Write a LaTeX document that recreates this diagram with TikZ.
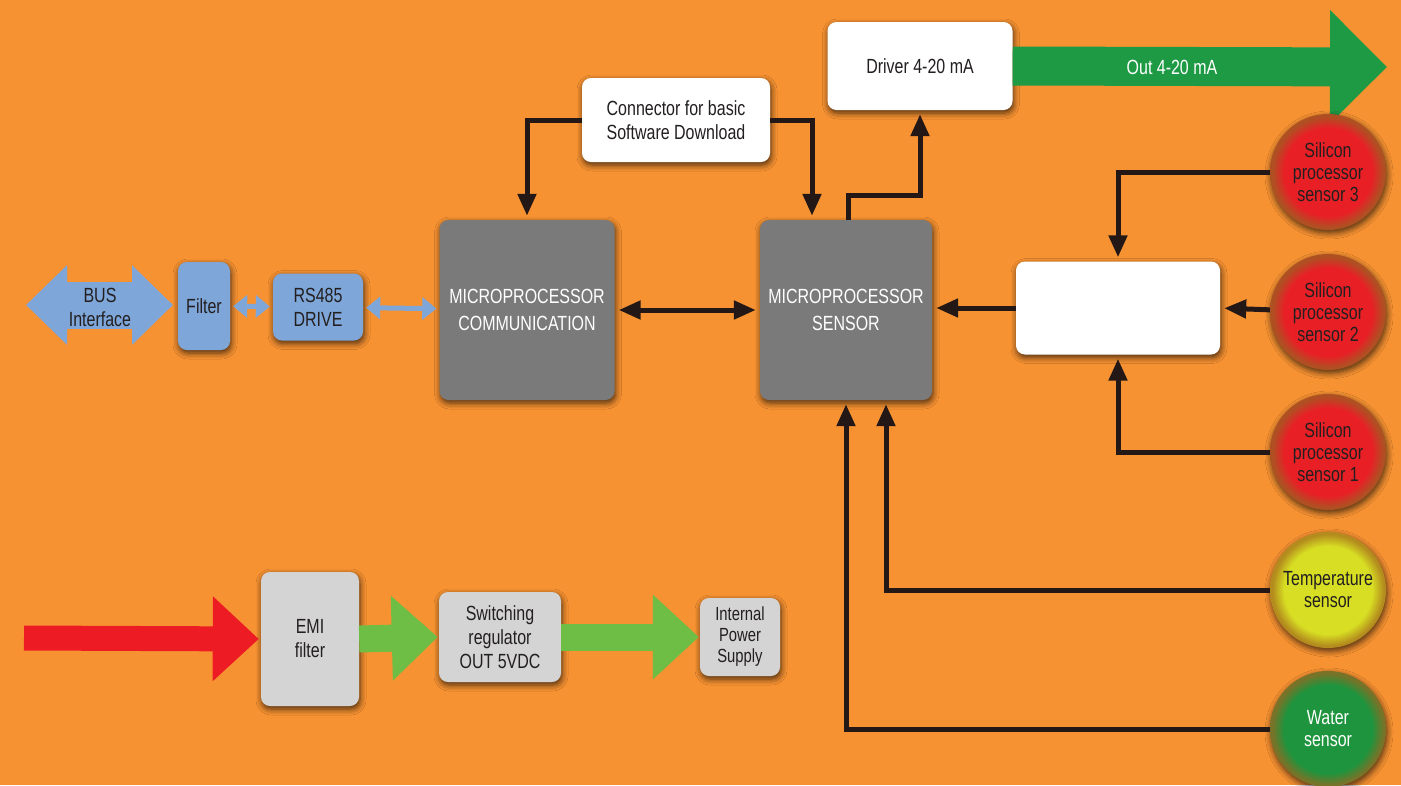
\documentclass[tikz,border=0pt]{standalone}
\usepackage{fontspec}
\setmainfont[FakeStretch=0.78]{Liberation Sans}
\usetikzlibrary{arrows.meta,shadows.blur}

\definecolor{bgorange}{RGB}{247,146,50}
\definecolor{boxgray}{RGB}{122,122,122}
\definecolor{busblue}{RGB}{126,166,216}
\definecolor{lightgray}{RGB}{212,212,212}
\definecolor{textdark}{RGB}{35,31,32}
\definecolor{wirecol}{RGB}{35,24,21}
\definecolor{outgreen}{RGB}{30,154,69}
\definecolor{pwrgreen}{RGB}{110,190,70}
\definecolor{pwrred}{RGB}{237,28,36}
\definecolor{sensred}{RGB}{232,32,38}
\definecolor{redrim}{RGB}{175,80,35}
\definecolor{sensyellow}{RGB}{215,222,35}
\definecolor{yellowrim}{RGB}{180,140,30}
\definecolor{sensgreen}{RGB}{30,148,62}
\definecolor{greenrim}{RGB}{120,115,40}

\pgfdeclareradialshading{redball}{\pgfpoint{0bp}{0bp}}{color(0bp)=(sensred); color(19bp)=(sensred); color(24bp)=(redrim); color(50bp)=(redrim)}
\pgfdeclareradialshading{yellowball}{\pgfpoint{0bp}{0bp}}{color(0bp)=(sensyellow); color(19bp)=(sensyellow); color(24bp)=(yellowrim); color(50bp)=(yellowrim)}
\pgfdeclareradialshading{greenball}{\pgfpoint{0bp}{0bp}}{color(0bp)=(sensgreen); color(19bp)=(sensgreen); color(24bp)=(greenrim); color(50bp)=(greenrim)}

\tikzset{
  softshadow/.style={blur shadow={shadow xshift=1pt, shadow yshift=-3pt,
      shadow blur radius=6pt, shadow opacity=70, shadow blur steps=6}},
  box/.style={rounded corners=9pt, inner sep=0pt, align=center, text=textdark, softshadow},
  graybox/.style={box, fill=boxgray, text=white, font=\fontsize{20.5}{27}\selectfont},
  whitebox/.style={box, fill=white},
  bluebox/.style={box, fill=busblue},
  lightbox/.style={box, fill=lightgray},
  sensor/.style={circle, minimum size=116pt, inner sep=0pt, align=center,
      text=textdark, font=\fontsize{20.5}{22}\selectfont, softshadow},
  wire/.style={draw=wirecol, line width=5pt, shorten >=4pt,
      -{Triangle[length=22pt 0 0, width=18pt 0 0]}},
  bluewire/.style={draw=busblue, line width=5pt, shorten >=3pt, shorten <=3pt,
      {Triangle[length=14pt 0 0, width=22pt 0 0]}-{Triangle[length=14pt 0 0, width=22pt 0 0]}},
  fatarrow/.style={line width=#1, -{Triangle[length=46pt 0 0, width=82pt 0 0]}}
}

\begin{document}
\begin{tikzpicture}[x=1pt, y=-1pt, font=\fontsize{20.5}{24}\selectfont]
\useasboundingbox (0,0) rectangle (1401,785);
\fill [bgorange] (0,0) rectangle (1401,785);

% bus side
\coordinate (busl) at (26,305);
\coordinate (busr) at (173,305);
\draw [busblue, line width=47pt,
  {Triangle[length=41pt 0 0, width=77pt 0 0]}-{Triangle[length=41pt 0 0, width=77pt 0 0]}] (busl) -- (busr);
\node [text=textdark, align=center] (bus) at (100,307) {BUS\\Interface};
\node [bluebox, minimum width=52pt, minimum height=88pt] (filter) at (204,306) {Filter};
\node [bluebox, minimum width=90pt, minimum height=67pt] (rs485) at (318,307) {RS485\\DRIVE};

% processors
\node [graybox, minimum width=175pt, minimum height=180pt] (mc) at (527,310) {MICROPROCESSOR\\COMMUNICATION};
\node [graybox, minimum width=172pt, minimum height=180pt] (ms) at (846,310) {MICROPROCESSOR\\SENSOR};
\node [whitebox, minimum width=188pt, minimum height=84pt] (conn) at (676,120) {Connector for basic\\Software Download};
\node [whitebox, minimum width=185pt, minimum height=88pt] (driver) at (920,66) {Driver 4-20 mA};
\node [whitebox, minimum width=204pt, minimum height=93pt] (wbox) at (1118,308) {};

% output
\coordinate (outend) at (1387,67);
\draw [outgreen, line width=39pt, -{Triangle[length=57pt 0 0, width=110pt 0 0]}] (driver.east) -- (outend);
\node [text=white] (outlbl) at (1172,67) {Out 4-20 mA};

% sensors
\node [sensor, shading=redball] (s3) at (1328,172) {Silicon\\processor\\sensor 3};
\node [sensor, shading=redball] (s2) at (1328,312) {Silicon\\processor\\sensor 2};
\node [sensor, shading=redball] (s1) at (1328,452) {Silicon\\processor\\sensor 1};
\node [sensor, shading=yellowball] (temp) at (1328,590) {Temperature\\sensor};
\node [sensor, shading=greenball, text=white] (water) at (1328,729) {Water\\sensor};

% power
\coordinate (pwrin) at (24,638);
\node [lightbox, minimum width=98pt, minimum height=134pt] (emi) at (310,639) {EMI\\filter};
\node [lightbox, minimum width=122pt, minimum height=90pt] (swreg) at (500,637) {Switching\\regulator\\OUT 5VDC};
\node [lightbox, minimum width=80pt, minimum height=78pt, font=\fontsize{19}{21}\selectfont] (ips) at (740,637) {Internal\\Power\\Supply};
\draw [pwrred, fatarrow=25pt, shorten >=2pt] (pwrin) -- (emi.west);
\draw [pwrgreen, fatarrow=27pt, shorten >=1pt] (emi.east) -- (swreg.west);
\draw [pwrgreen, fatarrow=27pt, shorten >=1pt] (swreg.east) -- (ips.west);

% links
\draw [bluewire] (filter) -- (rs485);
\draw [bluewire] (rs485) -- (mc);
\draw [wire, shorten <=4pt, {Triangle[length=22pt 0 0, width=18pt 0 0]}-{Triangle[length=22pt 0 0, width=18pt 0 0]}] (mc) -- (ms);
\draw [wire] (conn.west) -| (mc.north);
\draw [wire] (conn.east) -| ([xshift=-34pt]ms.north);
\draw [wire] ([xshift=2pt]ms.north) -- ++(0,-24) -| (driver.south);
\draw [wire] (s3) -| (wbox.north);
\draw [wire] (s2) -- (wbox.east);
\draw [wire] (s1) -| (wbox.south);
\draw [wire] (wbox.west) -- (wbox.west -| ms.east);
\draw [wire] (temp) -| ([xshift=40pt]ms.south);
\draw [wire] (water) -| (ms.south);
\end{tikzpicture}
\end{document}
